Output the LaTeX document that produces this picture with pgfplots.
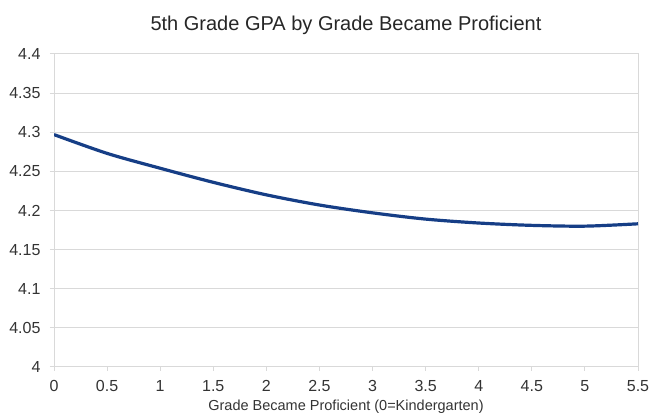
\documentclass[border=0pt]{standalone}
\usepackage{fontspec}
\setmainfont{Liberation Sans}
\usepackage{pgfplots}
\pgfplotsset{compat=1.18}
\usetikzlibrary{calc}
\definecolor{curveblue}{RGB}{22,62,134}
\definecolor{gridgray}{RGB}{217,217,217}
\begin{document}
\begin{tikzpicture}
\begin{axis}[
    name=ax,
    scale only axis,
    width=584pt, height=313pt,
    xmin=0, xmax=5.5, ymin=4, ymax=4.4,
    xtick={0,0.5,...,5.5},
    ytick={4,4.05,...,4.4},
    yticklabels={4,4.05,4.1,4.15,4.2,4.25,4.3,4.35,4.4},
    xticklabels={0,0.5,1,1.5,2,2.5,3,3.5,4,4.5,5,5.5},
    axis line style={gridgray, line width=1pt},
    ymajorgrids, grid style={gridgray, line width=1pt},
    tick style={gridgray, line width=1pt},
    tick align=outside,
    major tick length=4pt,
    xtick pos=bottom, ytick pos=left,
    tick label style={font=\fontsize{16}{16}\selectfont, text=black!80},
    xticklabel style={yshift=-6pt},
    yticklabel style={xshift=-6pt},
    /pgf/number format/assume math mode=true,
    xlabel={Grade Became Proficient (0=Kindergarten)},
    xlabel style={font=\fontsize{14.5}{14.5}\selectfont, text=black!80, yshift=-1pt},
    title={5th Grade GPA by Grade Became Proficient},
    title style={font=\fontsize{20}{20}\selectfont, text=black!85, yshift=10pt},
]
\addplot[curveblue, line width=3.2pt, smooth] coordinates {
    (0,4.297) (0.5,4.273) (1,4.254) (1.5,4.236) (2,4.220) (2.5,4.207)
    (3,4.197) (3.5,4.189) (4,4.184) (4.5,4.181) (5,4.180) (5.5,4.183)
};
\end{axis}
\pgfresetboundingbox
\path ($(ax.south west)+(-54pt,-49pt)$) rectangle ($(ax.north east)+(14pt,54pt)$);
\end{tikzpicture}
\end{document}
